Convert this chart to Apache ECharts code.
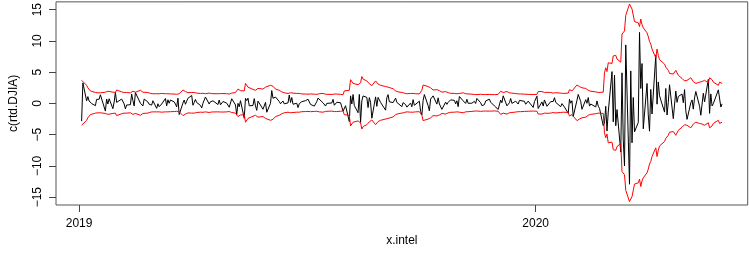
<!DOCTYPE html>
<html><head><meta charset="utf-8">
<script src="https://cdn.jsdelivr.net/npm/echarts@6/dist/echarts.min.js"></script>
<style>html,body{margin:0;padding:0;background:#fff}#c{width:749px;height:257px}</style>
</head><body><div id="c"></div>
<script>
// ---- data ----
const holidays = ['2019-01-21','2019-02-18','2019-04-19','2019-05-27','2019-07-04','2019-09-02','2019-11-28','2019-12-25',
  '2020-01-01','2020-01-20','2020-02-17','2020-04-10','2020-05-25'];
const startDate = '2019-01-03';

const returns2019 = [
  -2.83, 3.29, 0.42, 1.09, 0.39, 0.51, -0.02, -0.36, 0.65, 0.59, 0.67, 1.38, -1.22, 0.70, -0.09, 0.75, -0.84, 0.21, 1.77, 0.17,
  0.26, 0.70, 0.68, -0.08, -0.87, -0.25, -0.21, 1.49, 0.46, -0.41, 1.74, 0.03, 0.24, -0.40, 0.70, 0.23, -0.13, -0.28, -0.27,
  0.43, -0.79, -0.05, -0.52, -0.78, -0.09, 0.79, -0.38, 0.58, 0.03, 0.54, 0.25, -0.10, -0.55, 0.84, -1.77, 0.06, 0.55, -0.13, 0.36, 0.82,
  1.27, -0.29, 0.15, 0.64, 0.15, -0.32, -0.72, 0.03, -0.05, 1.03, -0.10, 0.26, -0.01, 0.42, -0.18, 0.55, -0.22, -0.51, 0.31, 0.04, 0.14,
  -0.61, -0.46, 0.75, -0.25, -1.79, 0.01, -0.54, 0.44, -2.38, 0.82, 0.45, 0.84, -0.38, -0.33, 0.77, -0.39, -1.11, 0.37, -0.93, -0.87, 0.17, -1.41,
  0.02, 2.06, 0.82, 0.71, 1.02, 0.30, -0.05, -0.17, 0.39, -0.07, 0.09, 1.35, 0.15, 0.94, -0.13, 0.03, -0.67, -0.04, -0.04, 0.28,
  0.44, 0.26, 0.67, -0.16, -0.43, -0.08, 0.29, 0.85, 0.90, 0.10, -0.09, -0.42, 0.01, -0.25, 0.07, 0.65, -0.29, -0.47, 0.19, 0.11, -0.09, -1.23,
  -1.05, -0.37, -2.90, 1.21, -0.09, 1.43, -0.34, -1.49, 1.44, -3.05, 0.39, 1.20, 0.96, -0.66, 0.93, 0.19, -2.37, 1.05, -0.47, 0.96, 1.25, 0.16,
  -1.08, 0.91, 1.41, 0.26, 0.14, 0.28, 0.85, 0.17, 0.14, -0.52, 0.13, 0.13, -0.19, -0.59, 0.06, -0.53, 0.61, -0.30, -0.26, 0.36,
  -1.28, -1.86, 0.47, 1.42, -0.36, -1.19, 0.70, 0.57, 1.21, -0.11, 0.89, -0.08, 0.09, -0.95, 0.21, -0.15, 0.17, -0.11, 0.57, 0.49, -0.07, 0.43, -0.52,
  1.11, 0.41, 0.11, 0.00, 0.66, 0.02, 0.04, 0.00, 0.33, -0.01, 0.80, 0.11, -0.36, -0.40, -0.20, 0.39, 0.68, 0.20, 0.15, -0.40,
  -0.96, -1.01, 0.53, 0.11, 1.22, -0.38, -0.10, 0.11, 0.79, 0.01, 0.36, 0.10, -0.10, 0.49, 0.27, 0.34, -0.13, 0.37, 0.08, -0.64, 0.27
];
const returns2020 = [
  1.16, -0.81, 0.24, -0.42, 0.56, 0.74, -0.46, 0.29, 0.11, 0.31, 0.92, 0.17, -0.52, -0.03, -0.09, -0.58, -1.57, 0.66, 0.04, 0.43, -2.09,
  0.51, 1.44, 1.68, 0.30, -0.94, 0.60, 0.02, 0.94, -0.43, -0.09, -0.56, 0.40, -0.44, -0.78, -3.56, -3.15, -0.46, -4.42, -1.39,
  5.09, -2.94, 4.53, -3.58, -0.98, -7.79, 4.89, -5.86, -9.99, 9.36, -12.93, 5.20, -6.30, 0.95, -4.55, -3.04, 11.37, 2.39, 6.38, -4.06, 3.19, -1.84,
  -4.44, 2.24, -1.69, 7.73, -0.12, 3.44, 1.22, -1.39, 2.39, -1.86, 0.14, 2.99, -2.44, -2.67, 1.99, 0.17, 1.11, 1.51, 0.11, 2.21, -1.17,
  -2.55, 0.11, 0.56, -0.91, 0.89, 1.91, -0.45, -1.89, -2.17, 1.62, 0.25, 3.85, -1.59, 1.52, -0.41, -0.04, 2.17, 2.21, -0.58, -0.07
];
// half-width of the red band around bandCenter
const band2019 = [
  3.6, 3.3, 2.8, 2.4, 2.1, 1.9, 1.75, 1.65, 1.6, 1.6, 1.6, 1.6, 1.7, 2.0, 1.85, 1.7, 1.7, 1.75, 1.65, 2.05,
  1.9, 1.75, 1.7, 1.65, 1.6, 1.65, 1.6, 1.55, 1.85, 1.75, 1.7, 2.0, 1.85, 1.7, 1.65, 1.65, 1.55, 1.5, 1.45,
  1.45, 1.45, 1.5, 1.45, 1.45, 1.5, 1.45, 1.5, 1.45, 1.45, 1.42, 1.4, 1.38, 1.36, 1.4, 1.45, 2.05, 1.9, 1.8, 1.7, 1.62,
  1.65, 1.75, 1.65, 1.58, 1.55, 1.5, 1.48, 1.52, 1.47, 1.45, 1.55, 1.5, 1.47, 1.45, 1.45, 1.43, 1.47, 1.45, 1.48, 1.45, 1.42,
  1.4, 1.55, 1.55, 1.65, 1.6, 2.2, 2.05, 1.95, 1.9, 3.1, 2.8, 2.5, 2.35, 2.15, 2.0, 2.0, 1.95, 2.3, 2.2, 2.4, 2.5, 2.4,
  2.8, 2.6, 2.65, 2.4, 2.2, 2.0, 1.85, 1.75, 1.65, 1.6, 1.5, 1.45, 1.6, 1.5, 1.55, 1.5, 1.45, 1.5, 1.45, 1.42,
  1.4, 1.4, 1.38, 1.42, 1.38, 1.38, 1.35, 1.35, 1.45, 1.5, 1.42, 1.38, 1.4, 1.35, 1.33, 1.3, 1.4, 1.38, 1.4, 1.35, 1.32, 1.3,
  1.9, 2.1, 2.0, 3.7, 3.4, 3.1, 3.2, 2.9, 3.1, 3.2, 4.2, 3.8, 3.5, 3.3, 3.05, 2.95, 2.75, 3.5, 3.25, 3.0, 2.85, 2.8,
  2.6, 2.7, 2.5, 2.5, 2.25, 2.05, 1.9, 1.85, 1.75, 1.65, 1.6, 1.55, 1.5, 1.45, 1.5, 1.42, 1.5, 1.5, 1.45, 1.42,
  1.4, 2.0, 2.85, 2.65, 2.6, 2.35, 2.4, 2.2, 2.05, 2.1, 1.95, 1.95, 1.8, 1.7, 1.8, 1.7, 1.62, 1.58, 1.52, 1.5, 1.5, 1.45, 1.45,
  1.5, 1.6, 1.52, 1.45, 1.4, 1.42, 1.38, 1.35, 1.33, 1.33, 1.31, 1.37, 1.33, 1.33, 1.33, 1.32, 1.33, 1.35, 1.32, 1.3,
  1.35, 1.65, 1.85, 1.75, 1.65, 1.8, 1.7, 1.6, 1.52, 1.55, 1.48, 1.45, 1.42, 1.4, 1.42, 1.38, 1.38, 1.35, 1.35, 1.32, 1.4
];
const band2020 = [
  1.35, 1.8, 1.8, 1.7, 1.65, 1.65, 1.68, 1.65, 1.6, 1.55, 1.52, 1.62, 1.55, 1.55, 1.5, 1.48, 1.55, 2.1, 2.0, 1.9, 1.85,
  2.85, 2.65, 2.6, 2.65, 2.4, 2.3, 2.15, 2.0, 1.95, 1.85, 1.75, 1.7, 1.65, 1.62, 1.7, 4.8, 5.6, 5.0, 6.4,
  6.3, 7.5, 7.2, 7.6, 7.0, 6.5, 11.0, 10.8, 11.5, 14.0, 15.8, 16.1, 15.0, 14.8, 13.0, 12.8, 12.2, 13.4, 12.5, 12.0, 11.2, 10.6,
  9.8, 9.4, 8.6, 7.2, 8.6, 7.6, 6.9, 6.2, 5.7, 5.5, 5.2, 4.7, 4.6, 4.4, 5.2, 4.9, 4.4, 3.9, 3.7, 3.5, 3.7,
  3.6, 4.0, 3.7, 3.4, 3.3, 3.1, 3.3, 3.0, 3.4, 3.7, 3.6, 3.2, 4.0, 3.9, 3.7, 3.3, 2.8, 3.3, 3.5, 3.1
];
const bandCenter = 0.1;
const yTicks = [-15, -10, -5, 0, 5, 10, 15];
const yRange = [-16.25, 16.25];
const xTickDates = ['2019-01-01', '2020-01-01'];
const xTickLabels = ['2019', '2020'];

// ---- build ----
const returns = returns2019.concat(returns2020);
const band = band2019.concat(band2020);
const dates = [];
let d = new Date(startDate + 'T00:00:00Z');
while (dates.length < returns.length) {
  const iso = d.toISOString().slice(0, 10);
  const wd = d.getUTCDay();
  if (wd !== 0 && wd !== 6 && holidays.indexOf(iso) < 0) dates.push(d.getTime());
  d = new Date(d.getTime() + 86400000);
}
const t0 = dates[0], t1 = dates[dates.length - 1], span = t1 - t0;
const xTickTs = xTickDates.map(s => Date.parse(s + 'T00:00:00Z'));
const FONT = 'Liberation Sans, Arial, sans-serif';

const chart = echarts.init(document.getElementById('c'), null, {renderer: 'canvas'});
chart.setOption({
  animation: false,
  backgroundColor: '#fff',
  grid: {left: 53.8, right: 1.3, top: 1, bottom: 52, show: true, borderColor: '#555', borderWidth: 1, containLabel: false},
  xAxis: {
    type: 'value', min: t0 - 0.04 * span, max: t1 + 0.04 * span,
    axisLine: {show: false, onZero: false}, splitLine: {show: false},
    axisTick: {show: true, customValues: xTickTs, length: 7, lineStyle: {color: '#444', width: 1}},
    axisLabel: {customValues: xTickTs, color: '#000', fontSize: 12, fontFamily: FONT, margin: 13, showMinLabel: true, showMaxLabel: true,
      formatter: v => { let bi = 0; xTickTs.forEach((t, i) => { if (Math.abs(t - v) < Math.abs(xTickTs[bi] - v)) bi = i; }); return xTickLabels[bi]; }},
    name: 'x.intel', nameLocation: 'middle', nameGap: 30,
    nameTextStyle: {color: '#000', fontSize: 12, fontFamily: FONT}
  },
  yAxis: {
    type: 'value', min: yRange[0], max: yRange[1],
    axisLine: {show: false, onZero: false}, splitLine: {show: false},
    axisTick: {show: true, customValues: yTicks, length: 7, lineStyle: {color: '#444', width: 1}},
    axisLabel: {customValues: yTicks, rotate: 90, color: '#000', fontSize: 12, fontFamily: FONT, margin: 12,
      formatter: v => String(v).replace('-', '\u2212')},
    name: 'c(rtd.DJIA)', nameLocation: 'middle', nameGap: 36, nameRotate: 90,
    nameTextStyle: {color: '#000', fontSize: 12, fontFamily: FONT}
  },
  series: [
    {type: 'line', data: dates.map((t, i) => [t, returns[i]]), showSymbol: false, symbol: 'none',
      lineStyle: {color: '#000', width: 1}, itemStyle: {color: '#000'}, z: 2},
    {type: 'line', data: dates.map((t, i) => [t, bandCenter + band[i]]), showSymbol: false, symbol: 'none',
      lineStyle: {color: '#ff0000', width: 1}, itemStyle: {color: '#ff0000'}, z: 3},
    {type: 'line', data: dates.map((t, i) => [t, bandCenter - band[i]]), showSymbol: false, symbol: 'none',
      lineStyle: {color: '#ff0000', width: 1}, itemStyle: {color: '#ff0000'}, z: 3}
  ]
});
</script></body></html>
